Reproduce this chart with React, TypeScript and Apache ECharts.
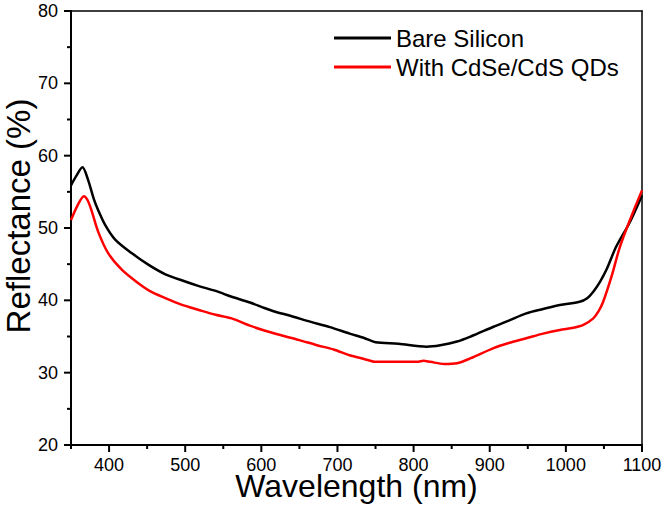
import React, { useEffect, useRef } from "react";
import * as echarts from "echarts";

const FONT = "'Liberation Sans', Arial, Helvetica, sans-serif";

const seriesNames = ["Bare Silicon", "With CdSe/CdS QDs"];
const seriesColors = ["#000000", "#ff0000"];

const bareWavelength = [
  350, 357, 365, 372, 380, 386, 395, 408, 430, 452, 474, 500, 517, 540, 561, 585, 605, 616, 640, 664,
  690, 716, 735, 750, 780, 817, 835, 857, 875, 905, 925, 948, 970, 992, 1018, 1028, 1036, 1045, 1054,
  1066, 1084, 1100,
];
const bareReflectance = [
  55.9, 57.2, 58.4, 56.8, 54.0, 52.4, 50.4, 48.4, 46.5, 44.9, 43.6, 42.6, 42.0, 41.3, 40.5, 39.7, 38.9,
  38.5, 37.8, 37.05, 36.3, 35.4, 34.8, 34.2, 34.0, 33.6, 33.8, 34.3, 35.0, 36.35, 37.2, 38.2, 38.8,
  39.35, 39.8, 40.3, 41.2, 42.6, 44.4, 47.4, 50.8, 54.5,
];

const qdWavelength = [
  350, 358, 367, 372, 377, 386, 399, 417, 438, 455, 474, 495, 517, 540, 561, 585, 605, 625, 650, 673,
  695, 716, 735, 750, 780, 805, 813, 822, 840, 857, 875, 905, 925, 948, 970, 992, 1010, 1023, 1036,
  1043, 1049, 1060, 1071, 1086, 1100,
];
const qdReflectance = [
  51.1, 53.0, 54.4, 53.8, 52.4, 49.4, 46.5, 44.2, 42.4, 41.2, 40.3, 39.4, 38.7, 38.0, 37.5, 36.5, 35.8,
  35.2, 34.5, 33.8, 33.2, 32.4, 31.9, 31.5, 31.5, 31.5, 31.65, 31.5, 31.2, 31.3, 32.0, 33.4, 34.1,
  34.75, 35.4, 35.9, 36.2, 36.6, 37.5, 38.5, 39.8, 43.3, 47.4, 51.6, 55.2,
];

const X_MIN = 350;
const X_MAX = 1100;
const Y_MIN = 20;
const Y_MAX = 80;
const xMajorTicks = [400, 500, 600, 700, 800, 900, 1000, 1100];
const xMinorTicks = [350, 450, 550, 650, 750, 850, 950, 1050];
const yMajorTicks = [20, 30, 40, 50, 60, 70, 80];
const yMinorTicks = [25, 35, 45, 55, 65, 75];

const xTitle = "Wavelength (nm)";
const yTitle = "Reflectance (%)";

function pairs(xs: number[], ys: number[]) {
  return xs.map((x, i) => [x, ys[i]]);
}

function tickSeries(values: number[], axis: "x" | "y", len: number) {
  return {
    type: "custom",
    silent: true,
    clip: false,
    z: 5,
    data: values.map((v) => (axis === "x" ? [v, Y_MIN] : [X_MIN, v])),
    renderItem: (_params: any, api: any) => {
      const p = api.coord([api.value(0), api.value(1)]);
      const shape =
        axis === "x"
          ? { x1: p[0], y1: p[1], x2: p[0], y2: p[1] + len }
          : { x1: p[0] - len, y1: p[1], x2: p[0], y2: p[1] };
      return { type: "line", shape, style: { stroke: "#000", lineWidth: 2 } };
    },
  };
}

export default function App() {
  const ref = useRef<HTMLDivElement>(null);
  useEffect(() => {
    if (!ref.current) return;
    const chart = echarts.init(ref.current, undefined, { renderer: "svg" });
    const frameAxis = {
      type: "value",
      axisLine: { show: true, lineStyle: { color: "#000", width: 1.5 } },
      axisTick: { show: false },
      axisLabel: { show: false },
      splitLine: { show: false },
    };
    chart.setOption({
      animation: false,
      backgroundColor: "#ffffff",
      grid: { left: 71, right: 24, top: 11, bottom: 65 },
      legend: {
        orient: "vertical",
        left: 329,
        top: 21,
        itemWidth: 57,
        itemHeight: 3,
        itemGap: 5,
        icon: "rect",
        data: seriesNames,
        textStyle: { fontFamily: FONT, fontSize: 24, color: "#000", lineHeight: 24 },
      },
      xAxis: [
        {
          type: "value",
          min: X_MIN,
          max: X_MAX,
          position: "bottom",
          axisLine: { show: true, lineStyle: { color: "#000", width: 2 } },
          splitLine: { show: false },
          axisTick: { show: false },
          axisLabel: {
            customValues: xMajorTicks,
            formatter: (v: number) => String(v),
            fontFamily: FONT,
            fontSize: 18,
            color: "#000",
            margin: 11,
          },
        },
        { ...frameAxis, min: X_MIN, max: X_MAX, position: "top" },
      ],
      yAxis: [
        {
          type: "value",
          min: Y_MIN,
          max: Y_MAX,
          interval: 10,
          position: "left",
          axisLine: { show: true, lineStyle: { color: "#000", width: 2 } },
          splitLine: { show: false },
          axisTick: { show: false },
          axisLabel: { fontFamily: FONT, fontSize: 18, color: "#000", margin: 13 },
        },
        { ...frameAxis, min: Y_MIN, max: Y_MAX, position: "right" },
      ],
      graphic: [
        {
          type: "text",
          x: 18,
          y: 216,
          rotation: Math.PI / 2,
          style: {
            text: yTitle,
            fontFamily: FONT,
            fontSize: 33,
            fill: "#000",
            textAlign: "center",
            textVerticalAlign: "middle",
          },
        },
        {
          type: "text",
          x: 356.5,
          y: 486,
          style: {
            text: xTitle,
            fontFamily: FONT,
            fontSize: 32,
            fill: "#000",
            textAlign: "center",
            textVerticalAlign: "middle",
          },
        },
      ],
      series: [
        {
          name: seriesNames[0],
          type: "line",
          xAxisIndex: 0,
          yAxisIndex: 0,
          data: pairs(bareWavelength, bareReflectance),
          showSymbol: false,
          symbol: "none",
          smooth: 0.3,
          lineStyle: { color: seriesColors[0], width: 2.5 },
          itemStyle: { color: seriesColors[0] },
        },
        {
          name: seriesNames[1],
          type: "line",
          xAxisIndex: 0,
          yAxisIndex: 0,
          data: pairs(qdWavelength, qdReflectance),
          showSymbol: false,
          symbol: "none",
          smooth: 0.3,
          lineStyle: { color: seriesColors[1], width: 2.5 },
          itemStyle: { color: seriesColors[1] },
        },
        tickSeries(xMajorTicks, "x", 7),
        tickSeries(xMinorTicks, "x", 4),
        tickSeries(yMajorTicks, "y", 7),
        tickSeries(yMinorTicks, "y", 4),
      ],
    });
    return () => chart.dispose();
  }, []);
  return (
    <div
      ref={ref}
      style={{ position: "fixed", left: 0, top: 0, width: 666, height: 510, background: "#fff" }}
    />
  );
}
